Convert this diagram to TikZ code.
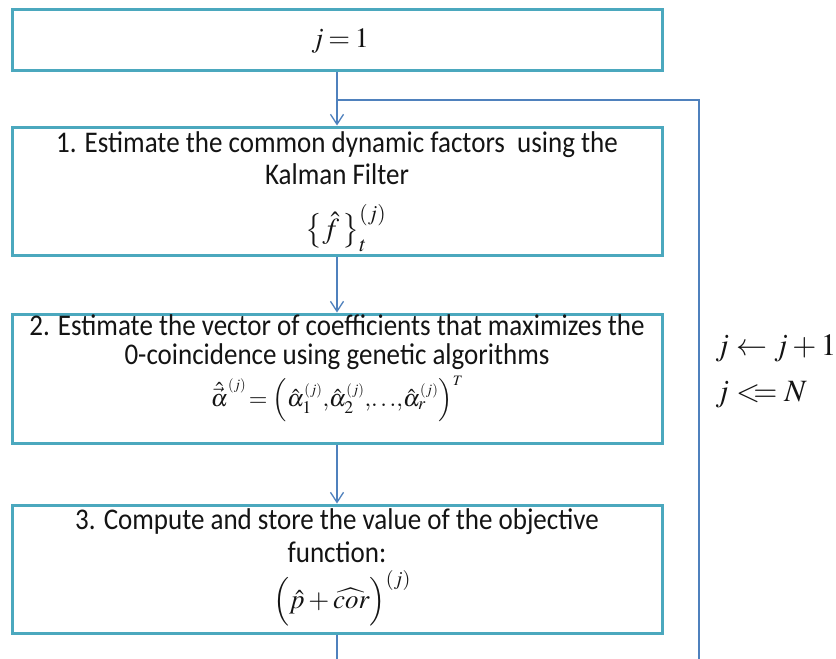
\documentclass[tikz,border=0pt]{standalone}
\usepackage{mathptmx}
\usepackage{fontspec}
\setmainfont{Carlito}[FakeStretch=0.9]
\usetikzlibrary{arrows.meta}
\definecolor{boxcol}{RGB}{75,168,190}
\definecolor{linecol}{RGB}{79,129,189}
\definecolor{txtcol}{RGB}{20,20,20}
\newcommand{\ahj}[1]{\hat{\alpha}_{#1}^{\scriptscriptstyle(j)}}
\tikzset{
  stepbox/.style={draw=boxcol, line width=3pt, minimum width=650pt, inner sep=0pt, fill=white},
  conn/.style={draw=linecol, line width=1.3pt},
  arr/.style={conn, -{Straight Barb[length=10pt,width=13pt,line width=1.3pt]}},
  txtline/.style={inner sep=0pt, anchor=base, text=txtcol, font=\fontsize{30}{34}\selectfont},
  mathline/.style={inner sep=0pt, anchor=center, text=txtcol},
  mathlbl/.style={inner sep=0pt, anchor=base west, text=txtcol, font=\fontsize{31}{36}\selectfont}
}
\begin{document}
\begin{tikzpicture}[x=1pt,y=-1pt]
\useasboundingbox (0,0) rectangle (836,659);
\clip (0,0) rectangle (836,659);
\fill[white] (0,0) rectangle (836,659);

\node[stepbox, minimum height=60.5pt] (b0) at (337,40) {};
\node[stepbox, minimum height=128pt] (b1) at (337,191) {};
\node[stepbox, minimum height=129pt] (b2) at (337,378.5) {};
\node[stepbox, minimum height=128pt] (b3) at (337,569) {};

\node[mathline, font=\fontsize{28}{32}\selectfont] (t0) at (340,41) {$j\mkern3mu{=}\mkern3mu1$};

\node[txtline] (t1a) at (337,152) {1. Estimate the common dynamic factors \ using the};
\node[txtline] (t1b) at (337,184) {Kalman Filter};
\node[mathline, font=\fontsize{29}{33}\selectfont] (t1c) at (346,228) {$\left\{\vrule height 20pt depth 12pt width 0pt\hat{f}\,\right\}_t^{(j)}$};

\node[txtline] (t2a) at (337,335) {2. Estimate the vector of coefficients that maximizes the};
\node[txtline] (t2b) at (337,364) {0-coincidence using genetic algorithms};
\node[mathline, font=\fontsize{24}{28}\selectfont] (t2c) at (337,399) {$\hat{\vec{\alpha}}^{\scriptscriptstyle(j)}\mkern2mu{=}\mkern2mu\left(\vrule height 17pt depth 7pt width 0pt\ahj{1}{,}\ahj{2}{,}{\ldots}{,}\ahj{r}\right)^{\scriptscriptstyle T}$};

\node[txtline] (t3a) at (337,529) {3. Compute and store the value of the objective};
\node[txtline] (t3b) at (337,562) {function:};
\node[mathline, font=\fontsize{27}{31}\selectfont] (t3c) at (342,598) {$\left(\vrule height 22pt depth 12pt width 0pt\hat{p}+\widehat{cor}\right)^{(j)}$};

\node[mathlbl] (l1) at (715,355) {$j\leftarrow j+1$};
\node[mathlbl] (l2) at (715,401) {$j<\!\!=N$};

\coordinate (lj) at (337,100);
\coordinate (lc1) at (337,662);
\coordinate (lc2) at (699,662);

\draw[arr] (b0.south) -- (b1.north);
\draw[arr] (b1.south) -- (b2.north);
\draw[arr] (b2.south) -- (b3.north);
\draw[conn] (b3.south) -- (lc1) -- (lc2) |- (lj);
\end{tikzpicture}
\end{document}
